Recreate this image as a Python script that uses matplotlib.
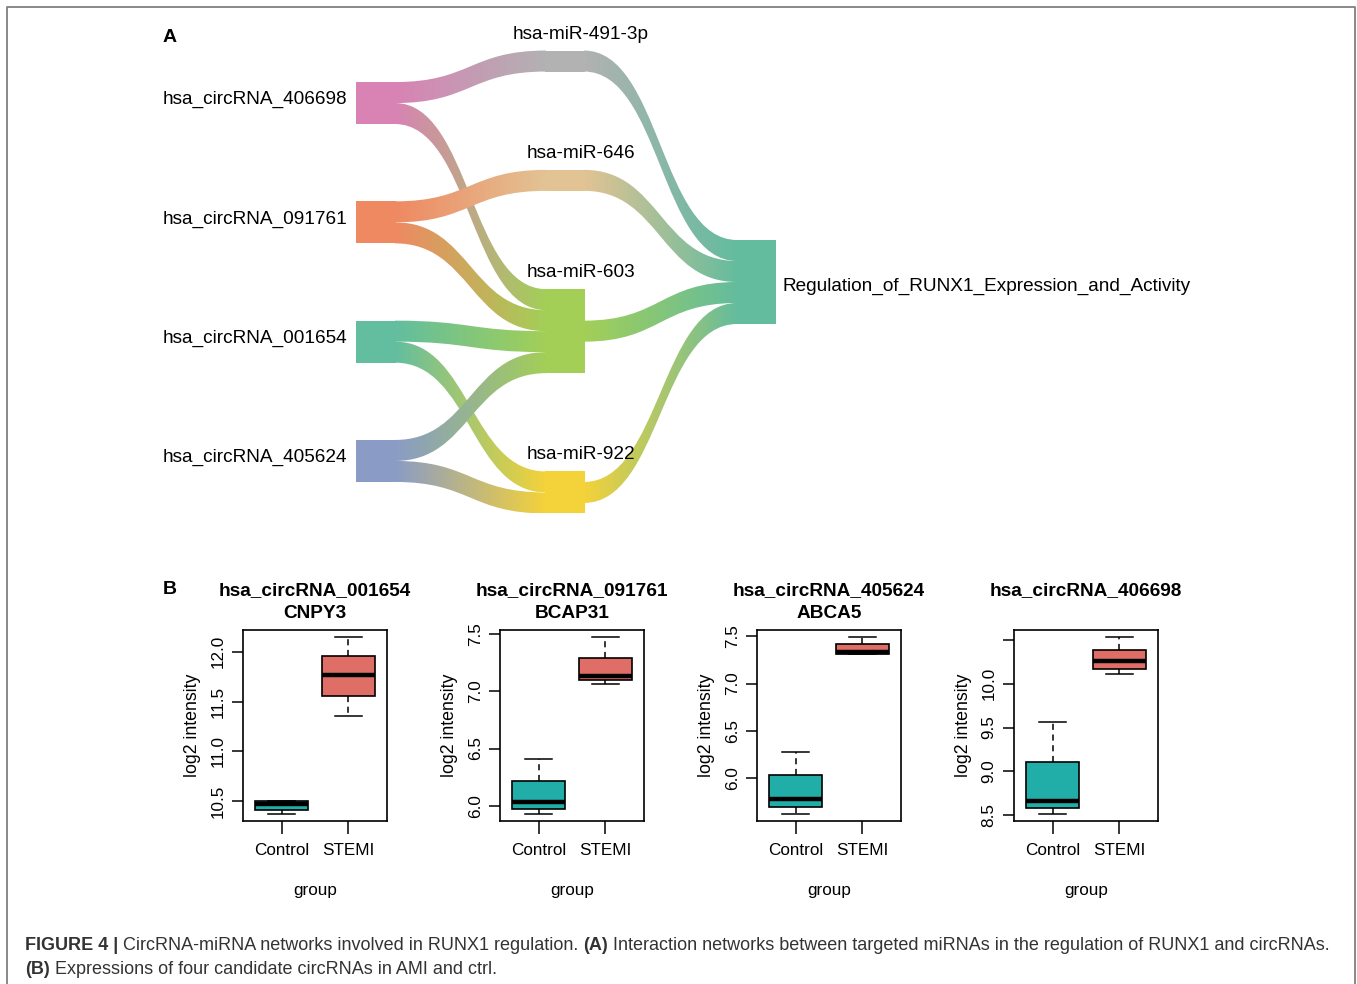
import numpy as np
import matplotlib
matplotlib.use("Agg")
import matplotlib.pyplot as plt
from matplotlib.path import Path
from matplotlib.patches import PathPatch, Rectangle
from matplotlib.colors import LinearSegmentedColormap

plt.rcParams['font.family'] = ['Liberation Sans', 'DejaVu Sans']

W, H = 1357, 984

# ---------------- panel A : circRNA -> miRNA -> pathway ----------------
circ_names = ["hsa_circRNA_406698", "hsa_circRNA_091761",
              "hsa_circRNA_001654", "hsa_circRNA_405624"]
circ_colors = ["#D883B4", "#EF8962", "#62BE9F", "#8A9CC6"]
mir_names = ["hsa-miR-491-3p", "hsa-miR-646", "hsa-miR-603", "hsa-miR-922"]
mir_colors = ["#B2B2B2", "#E2C394", "#A3CF57", "#F4D23A"]
pathway_name = "Regulation_of_RUNX1_Expression_and_Activity"
pathway_color = "#64BC9E"
# (circRNA index, miRNA index), drawn in this order
circ_mir_edges = [(0, 0), (0, 2), (1, 1), (1, 2),
                  (2, 2), (2, 3), (3, 2), (3, 3)]

# ---------------- panel B : expression boxplots ----------------
box_titles = [("hsa_circRNA_001654", "CNPY3"),
              ("hsa_circRNA_091761", "BCAP31"),
              ("hsa_circRNA_405624", "ABCA5"),
              ("hsa_circRNA_406698", "")]
groups = ["Control", "STEMI"]
# lower whisker, Q1, median, Q3, upper whisker
control_stats = [[10.373, 10.415, 10.477, 10.505, 10.505],
                 [5.927, 5.971, 6.032, 6.216, 6.404],
                 [5.617, 5.695, 5.777, 6.028, 6.279],
                 [8.511, 8.58, 8.664, 9.108, 9.559]]
stemi_stats = [[11.357, 11.558, 11.77, 11.956, 12.147],
               [7.061, 7.096, 7.132, 7.296, 7.476],
               [7.31, 7.315, 7.335, 7.415, 7.493],
               [10.107, 10.168, 10.26, 10.39, 10.535]]
ytick_values = [[10.5, 11.0, 11.5, 12.0],
                [6.0, 6.5, 7.0, 7.5],
                [6.0, 6.5, 7.0, 7.5],
                [8.5, 9.0, 9.5, 10.0, 10.5]]
ytick_labels = [["10.5", "11.0", "11.5", "12.0"],
                ["6.0", "6.5", "7.0", "7.5"],
                ["6.0", "6.5", "7.0", "7.5"],
                ["8.5", "9.0", "9.5", "10.0", ""]]
box_colors = ["#21AEA9", "#DF6E66"]

caption_1 = [("FIGURE 4 |", "bold"),
             ("CircRNA-miRNA networks involved in RUNX1 regulation.", "normal"),
             ("(A)", "bold"),
             ("Interaction networks between targeted miRNAs in the regulation of RUNX1 and circRNAs.", "normal")]
caption_2 = [("(B)", "bold"),
             ("Expressions of four candidate circRNAs in AMI and ctrl.", "normal")]


fig = plt.figure(figsize=(W / 100, H / 100), dpi=100)
fig.patch.set_facecolor("white")

# full-size overlay in pixel units for the network and frame
ax0 = fig.add_axes([0, 0, 1, 1])
ax0.axis("off")

unit = 21.0
node_w = 40.0
col_x = [356.0, 545.0, 736.0]
col_mid = 282.0
col_gap = [77.3, 98.3]


def stack(heights, gap):
    total = sum(heights) + gap * (len(heights) - 1)
    tops = []
    y = col_mid - total / 2
    for h in heights:
        tops.append(y)
        y += h + gap
    return tops


def draw_link(xa, ya0, ya1, xb, yb0, yb1, c0, c1):
    xm = (xa + xb) / 2
    verts = [(xa, ya0), (xm, ya0), (xm, yb0), (xb, yb0),
             (xb, yb1), (xm, yb1), (xm, ya1), (xa, ya1), (xa, ya0)]
    codes = [Path.MOVETO, Path.CURVE4, Path.CURVE4, Path.CURVE4,
             Path.LINETO, Path.CURVE4, Path.CURVE4, Path.CURVE4, Path.CLOSEPOLY]
    patch = PathPatch(Path(verts, codes), facecolor="none", edgecolor="none")
    ax0.add_patch(patch)
    cmap = LinearSegmentedColormap.from_list("flow", [c0, c1])
    grad = np.linspace(0, 1, 256)[None, :]
    ylo, yhi = min(ya0, yb0), max(ya1, yb1)
    im = ax0.imshow(grad, extent=(xa, xb, yhi, ylo), cmap=cmap,
                    aspect="auto", interpolation="bilinear")
    im.set_clip_path(patch)


circ_out = [sum(1 for e in circ_mir_edges if e[0] == i) for i in range(len(circ_names))]
mir_in = [sum(1 for e in circ_mir_edges if e[1] == j) for j in range(len(mir_names))]
circ_h = [n * unit for n in circ_out]
mir_h = [n * unit for n in mir_in]
circ_top = stack(circ_h, col_gap[0])
mir_top = stack(mir_h, col_gap[1])
path_h = unit * len(mir_names)
path_top = col_mid - path_h / 2

# circRNA -> miRNA flows
circ_used = [0.0] * len(circ_names)
mir_used = [0.0] * len(mir_names)
for ci, mi in circ_mir_edges:
    ya = circ_top[ci] + circ_used[ci]
    yb = mir_top[mi] + mir_used[mi]
    circ_used[ci] += unit
    mir_used[mi] += unit
    draw_link(col_x[0] + node_w - 1, ya, ya + unit, col_x[1] + 1, yb, yb + unit,
              circ_colors[ci], mir_colors[mi])

# miRNA -> pathway flows
for mi in range(len(mir_names)):
    ya = mir_top[mi] + mir_h[mi] / 2 - unit / 2
    yb = path_top + mi * unit
    draw_link(col_x[1] + node_w - 1, ya, ya + unit, col_x[2] + 1, yb, yb + unit,
              mir_colors[mi], pathway_color)

label_size = 13.7
for i, name in enumerate(circ_names):
    ax0.add_patch(Rectangle((col_x[0], circ_top[i]), node_w, circ_h[i],
                            facecolor=circ_colors[i], edgecolor="none"))
    ax0.text(col_x[0] - 9, circ_top[i] + circ_h[i] / 2 + 1, name,
             ha="right", va="baseline", fontsize=label_size)
for j, name in enumerate(mir_names):
    ax0.add_patch(Rectangle((col_x[1], mir_top[j]), node_w, mir_h[j],
                            facecolor=mir_colors[j], edgecolor="none"))
    ax0.text(col_x[1] + node_w / 2 + 16, mir_top[j] - 12, name,
             ha="center", va="baseline", fontsize=label_size)
ax0.add_patch(Rectangle((col_x[2], path_top), node_w, path_h,
                        facecolor=pathway_color, edgecolor="none"))
ax0.text(col_x[2] + node_w + 6, path_top + path_h / 2 + 9, pathway_name,
         ha="left", va="baseline", fontsize=label_size)

ax0.text(170, 37, "A", ha="center", va="center", fontsize=14, fontweight="bold")
ax0.text(170, 589, "B", ha="center", va="center", fontsize=14, fontweight="bold")

# outer frame
ax0.plot([7, 7, 1355, 1355], [H, 7, 7, H], color="#808080", lw=1.3)

ax0.set_xlim(0, W)
ax0.set_ylim(H, 0)

# ---------------- boxplots ----------------
box_x = [243, 500, 757, 1014]
box_w = 144
box_top, box_bot = 630, 821

for k in range(4):
    ax = fig.add_axes([box_x[k] / W, 1 - box_bot / H, box_w / W, (box_bot - box_top) / H])
    stats = []
    for s in (control_stats[k], stemi_stats[k]):
        stats.append(dict(whislo=s[0], q1=s[1], med=s[2], q3=s[3], whishi=s[4], fliers=[]))
    bp = ax.bxp(stats, positions=[1, 2], widths=0.8, patch_artist=True,
                showfliers=False, capwidths=0.4,
                boxprops=dict(linewidth=1.2, edgecolor="black"),
                medianprops=dict(color="black", linewidth=3.2, solid_capstyle="butt"),
                whiskerprops=dict(color="black", linewidth=1.1, linestyle=(0, (4, 3))),
                capprops=dict(color="black", linewidth=1.1))
    for patch, c in zip(bp["boxes"], box_colors):
        patch.set_facecolor(c)

    lo = min(control_stats[k][0], stemi_stats[k][0])
    hi = max(control_stats[k][4], stemi_stats[k][4])
    pad = 0.04 * (hi - lo)
    ax.set_ylim(lo - pad, hi + pad)
    ax.set_xlim(0.5 - 0.08, 2.5 + 0.08)

    ax.set_xticks([1, 2])
    ax.set_xticklabels(groups, fontsize=12.3)
    ax.set_yticks(ytick_values[k])
    ax.set_yticklabels(ytick_labels[k], fontsize=12.3, rotation=90, va="center")
    ax.tick_params(axis="x", direction="out", length=9, width=1.1, pad=6.5)
    ax.tick_params(axis="y", direction="out", length=8, width=1.1, pad=4.5)
    for sp in ax.spines.values():
        sp.set_linewidth(1.2)
    ax.set_xlabel("group", fontsize=12.3, labelpad=18)
    ax.set_ylabel("log2 intensity", fontsize=12.8, labelpad=7)

    cx = (box_x[k] + box_w / 2) / W
    fig.text(cx, 1 - 591 / H, box_titles[k][0], ha="center", va="center",
             fontsize=13.7, fontweight="bold")
    if box_titles[k][1]:
        fig.text(cx, 1 - 614 / H, box_titles[k][1], ha="center", va="center",
                 fontsize=13.7, fontweight="bold")

# ---------------- caption ----------------
renderer = fig.canvas.get_renderer()
cap_size = 13.0
cap_color = "#333333"


def text_width(s, weight):
    t = fig.text(0, 0, s, fontsize=cap_size, fontweight=weight)
    w = t.get_window_extent(renderer=renderer).width
    t.remove()
    return w


space_w = text_width("x x", "normal") - text_width("xx", "normal")


def caption_line(parts, y):
    x = 25.0
    for s, weight in parts:
        t = fig.text(x / W, 1 - y / H, s, fontsize=cap_size, fontweight=weight,
                     color=cap_color, ha="left", va="center")
        x += t.get_window_extent(renderer=renderer).width + space_w


caption_line(caption_1, 945)
caption_line(caption_2, 970)

fig.savefig("out.png", dpi=100, facecolor="white")
